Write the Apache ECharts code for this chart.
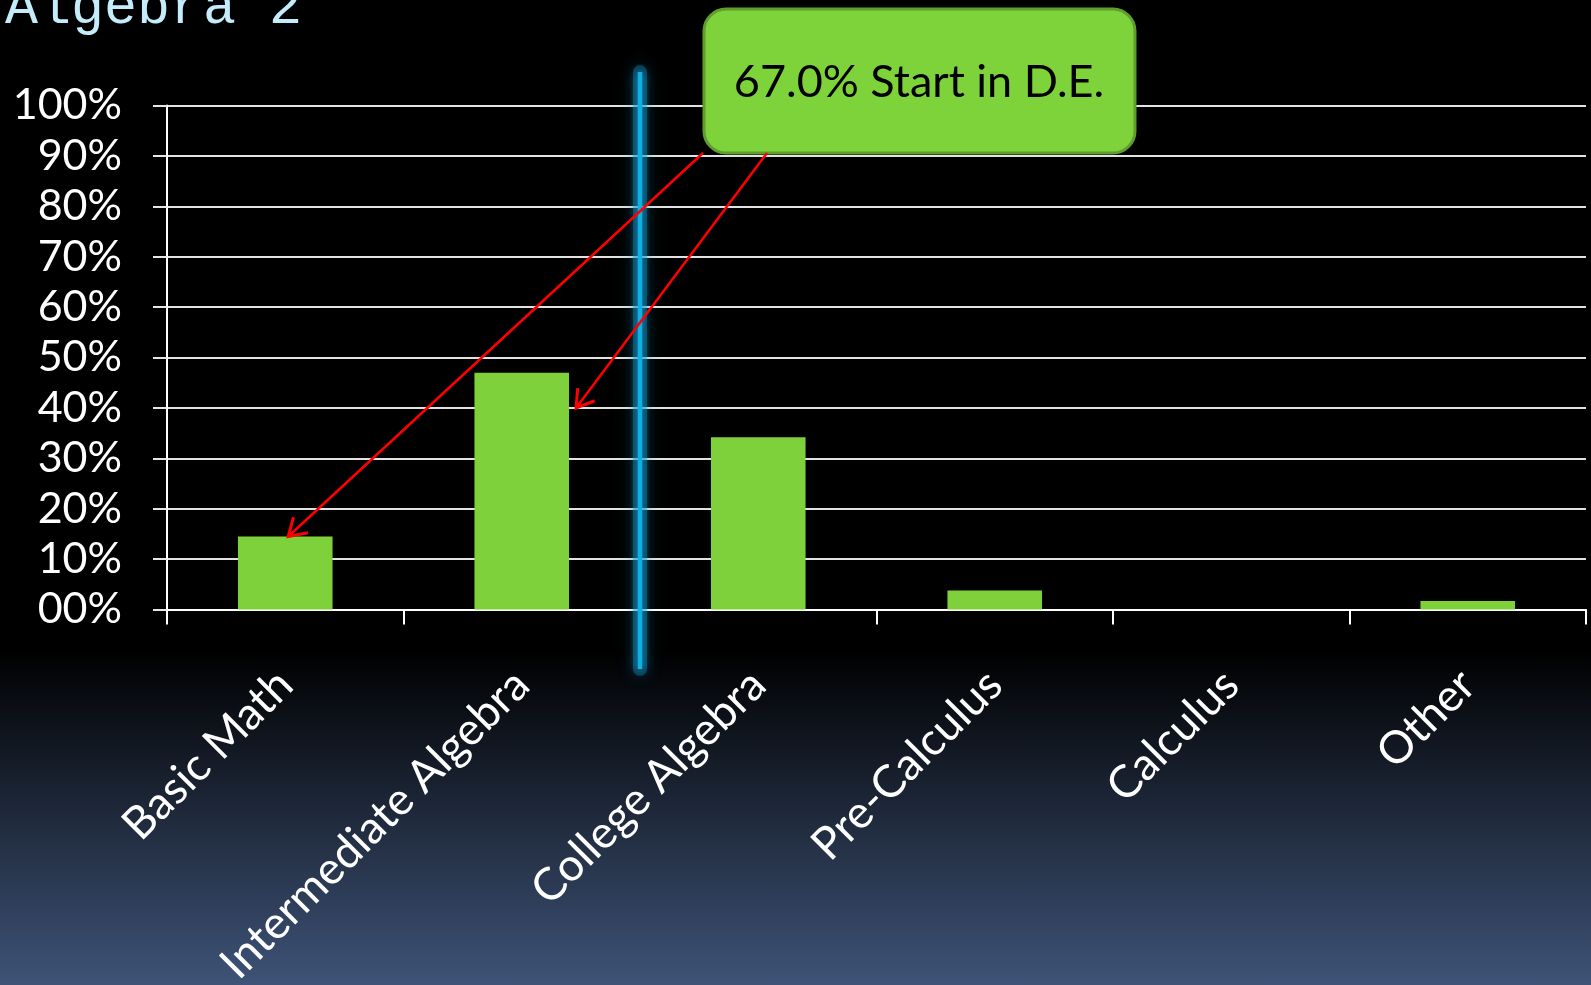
<!DOCTYPE html>
<html><head><meta charset="utf-8">
<script src="https://cdn.jsdelivr.net/npm/echarts@6/dist/echarts.min.js"></script>
<style>
html,body{margin:0;padding:0;width:1591px;height:985px;overflow:hidden;background:#000;}
#c{width:1591px;height:985px;background:linear-gradient(to bottom,#000 0px,#000 650px,#3e5377 985px);}
</style></head><body><div id="c"></div>
<script>
const categories = ['Basic Math', 'Intermediate Algebra', 'College Algebra', 'Pre-Calculus', 'Calculus', 'Other'];
const percentValues = [14.5, 47.0, 34.2, 3.8, 0, 1.7];
const yTickLabels = ['00%', '10%', '20%', '30%', '40%', '50%', '60%', '70%', '80%', '90%', '100%'];
const titleText = 'Algebra 2';
const calloutText = '67.0% Start in D.E.';

const FONT = 'Lato';
const chart = echarts.init(document.getElementById('c'), null, {renderer: 'canvas'});

chart.setOption({
  backgroundColor: 'transparent',
  animation: false,
  grid: {left: 167, right: 5, top: 105.5, bottom: 375.4, containLabel: false, outerBoundsMode: 'none'},
  xAxis: {
    type: 'category',
    data: categories,
    boundaryGap: true,
    axisLine: {show: true, lineStyle: {color: '#ffffff', width: 2}},
    axisTick: {show: true, length: 15, interval: 0, lineStyle: {color: '#ffffff', width: 2}},
    axisLabel: {interval: 0, rotate: 45, margin: 68, color: '#ffffff', fontSize: 45, fontFamily: FONT},
    splitLine: {show: false}
  },
  yAxis: {
    type: 'value',
    min: 0, max: 100, interval: 10,
    axisLine: {show: true, lineStyle: {color: '#ffffff', width: 2}},
    axisTick: {show: true, inside: false, length: 14, lineStyle: {color: '#e6e6e6', width: 2}},
    axisLabel: {
      margin: 45, color: '#ffffff', fontSize: 43, fontFamily: FONT,
      formatter: function (v) { return yTickLabels[Math.round(v / 10)]; }
    },
    splitLine: {show: true, lineStyle: {color: '#e2e2e2', width: 2}}
  },
  series: [{
    type: 'bar',
    data: percentValues,
    barWidth: '40%',
    itemStyle: {color: '#7fd13b', borderWidth: 0}
  }]
});

function arrowHead(ex, ey, sx, sy, len, half) {
  const ang = Math.atan2(sy - ey, sx - ex);
  const a1 = ang + half, a2 = ang - half;
  return [[ex + len * Math.cos(a1), ey + len * Math.sin(a1)], [ex, ey], [ex + len * Math.cos(a2), ey + len * Math.sin(a2)]];
}

const p0 = chart.convertToPixel({gridIndex: 0}, [0, percentValues[0]]);
const c1 = chart.convertToPixel({gridIndex: 0}, [1, 40]);
const c2 = chart.convertToPixel({gridIndex: 0}, [2, 0]);
const band = c2[0] - c1[0];
const sepX = (c1[0] + c2[0]) / 2;
const end2 = [c1[0] + band * 0.2 + 7, c1[1]];
const end1 = [p0[0] + 3, p0[1]];

const s1 = [703, 153];
const s2 = [767, 153];
const red = '#ff0000';

chart.setOption({
  graphic: [
    {type: 'text', left: 5, top: -19, style: {text: titleText, fill: '#c4ecfa', font: '55px "Liberation Mono"'}},
    {type: 'line', shape: {x1: sepX, y1: 72, x2: sepX, y2: 669}, z: 49,
      style: {stroke: 'rgba(20,150,200,0.35)', lineWidth: 14, lineCap: 'round', shadowBlur: 16, shadowColor: 'rgba(20,160,220,0.8)'}},
    {type: 'line', shape: {x1: sepX, y1: 72, x2: sepX, y2: 669}, z: 50,
      style: {stroke: '#11b0e2', lineWidth: 4.5, shadowBlur: 10, shadowColor: 'rgba(20,170,225,1)'}},
    {type: 'line', shape: {x1: s1[0], y1: s1[1], x2: end1[0], y2: end1[1]}, z: 60, style: {stroke: red, lineWidth: 2.5}},
    {type: 'polyline', shape: {points: arrowHead(end1[0], end1[1], s1[0], s1[1], 20, 0.56)}, z: 60, style: {stroke: red, lineWidth: 3, fill: null}},
    {type: 'line', shape: {x1: s2[0], y1: s2[1], x2: end2[0], y2: end2[1]}, z: 60, style: {stroke: red, lineWidth: 2.5}},
    {type: 'polyline', shape: {points: arrowHead(end2[0], end2[1], s2[0], s2[1], 20, 0.56)}, z: 60, style: {stroke: red, lineWidth: 3, fill: null}},
    {type: 'group', z: 70, children: [
      {type: 'rect', shape: {x: 704, y: 9, width: 431, height: 144, r: 22},
        style: {fill: '#7ed23a', stroke: '#5f9e2e', lineWidth: 3}},
      {type: 'text', x: 919, y: 82, style: {text: calloutText, fill: '#000000', font: '45px Lato', align: 'center', verticalAlign: 'middle'}}
    ]}
  ]
});
</script></body></html>
